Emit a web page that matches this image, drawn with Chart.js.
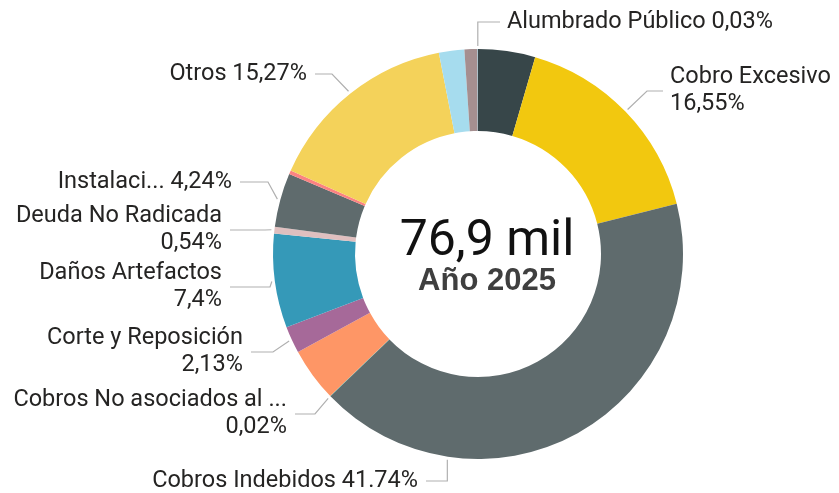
<!DOCTYPE html>
<html>
<head>
<meta charset="utf-8">
<script src="https://cdn.jsdelivr.net/npm/chart.js@4.4.1/dist/chart.umd.min.js"></script>
<style>
  html, body { margin: 0; padding: 0; background: #fff; }
  #wrap { width: 839px; height: 493px; position: relative; }
</style>
</head>
<body>
<div id="wrap"><canvas id="donut"></canvas></div>
<script>
// slices in drawing order (clockwise from 12 o'clock)
const categories = [
  "Sin etiqueta 1", "Cobro Excesivo", "Cobros Indebidos", "Cobros No asociados al ...",
  "Sin etiqueta 2", "Corte y Reposición", "Daños Artefactos", "Deuda No Radicada",
  "Instalaci...", "Sin etiqueta 3", "Otros", "Sin etiqueta 4", "Sin etiqueta 5", "Alumbrado Público"
];
const shares = [4.5, 16.55, 41.74, 0.02, 4.25, 2.13, 7.4, 0.54, 4.24, 0.3, 15.27, 2.0, 1.03, 0.03];
// percent text as shown on the report (one uses a dot)
const pctText = ["", "16,55%", "41.74%", "0,02%", "", "2,13%", "7,4%", "0,54%", "4,24%", "", "15,27%", "", "", "0,03%"];
const colors = [
  "#374649", "#F2C80F", "#5F6B6D", "#01B8AA", "#FE9666", "#A66999", "#3599B8",
  "#DFBFBF", "#5F6B6D", "#FB8281", "#F4D25A", "#A6DCEE", "#A58F90", "#8AD4EB"
];
const totalText = "76,9 mil";
const subText = "Año 2025";

// label placement (index -> text box + leader shape)
const labelLayout = {
  1:  { lines: ["Cobro Excesivo", "16,55%"], x: 670, y: 91, align: "left", elbowX: 647 },
  2:  { lines: ["Cobros Indebidos 41.74%"], x: 418, y: 481, align: "right", vertical: true, at: 0.75 },
  3:  { lines: ["Cobros No asociados al ...", "0,02%"], x: 287, y: 414, align: "right", elbowX: 315 },
  5:  { lines: ["Corte y Reposición", "2,13%"], x: 243, y: 352, align: "right", elbowX: 273 },
  6:  { lines: ["Daños Artefactos", "7,4%"], x: 222, y: 287, align: "right", elbowX: 270 },
  7:  { lines: ["Deuda No Radicada", "0,54%"], x: 222, y: 230, align: "right", elbowX: 265 },
  8:  { lines: ["Instalaci... 4,24%"], x: 232, y: 182, align: "right", elbowX: 268 },
  10: { lines: ["Otros 15,27%"], x: 307, y: 74, align: "right", elbowX: 332 },
  13: { lines: ["Alumbrado Público 0,03%"], x: 507, y: 22, align: "left", vertical: true, at: 0.5 }
};

const outLabels = {
  id: "outLabels",
  afterDatasetsDraw(chart) {
    const ctx = chart.ctx;
    const arcs = chart.getDatasetMeta(0).data;
    ctx.save();
    ctx.font = "23.5px Roboto";
    ctx.textBaseline = "middle";
    Object.keys(labelLayout).forEach(k => {
      const l = labelLayout[k];
      const arc = arcs[k];
      const p = arc.getProps(["x", "y", "startAngle", "endAngle", "outerRadius"], true);
      const f = l.at !== undefined ? l.at : 0.5;
      const a = p.startAngle + (p.endAngle - p.startAngle) * f;
      const r = p.outerRadius + 3;
      const ax = p.x + Math.cos(a) * r;
      const ay = p.y + Math.sin(a) * r;
      const ex = l.vertical ? ax : l.elbowX;
      const endX = l.align === "left" ? l.x - 7 : l.x + 8;
      ctx.strokeStyle = "#b0b0b0";
      ctx.lineWidth = 1.2;
      ctx.beginPath();
      ctx.moveTo(ax, ay);
      ctx.lineTo(ex, l.y);
      ctx.lineTo(endX, l.y);
      ctx.stroke();

      ctx.fillStyle = "#252423";
      ctx.textAlign = l.align;
      const lh = 27;
      const top = l.y - (l.lines.length - 1) * lh / 2;
      l.lines.forEach((t, i) => ctx.fillText(t, l.x, top + i * lh));
    });
    ctx.restore();
  }
};

const centerText = {
  id: "centerText",
  afterDatasetsDraw(chart) {
    const ctx = chart.ctx;
    const arc = chart.getDatasetMeta(0).data[0];
    const cx = arc.x + 9, cy = arc.y;
    ctx.save();
    ctx.textAlign = "center";
    ctx.textBaseline = "alphabetic";
    ctx.fillStyle = "#111";
    ctx.font = "50px Roboto";
    ctx.fillText(totalText, cx, cy + 1);
    ctx.fillStyle = "#3f3f3f";
    ctx.font = "bold 31px 'Liberation Sans'";
    ctx.fillText(subText, cx, cy + 36);
    ctx.restore();
  }
};

new Chart(document.getElementById("donut"), {
  type: "doughnut",
  data: {
    labels: categories,
    datasets: [{
      data: shares,
      backgroundColor: colors,
      borderWidth: 0
    }]
  },
  options: {
    responsive: true,
    maintainAspectRatio: false,
    animation: false,
    cutout: "60%",
    layout: { padding: { left: 273, right: 156, top: 49, bottom: 34 } },
    plugins: { legend: { display: false }, tooltip: { enabled: false } }
  },
  plugins: [outLabels, centerText]
});
</script>
</body>
</html>
